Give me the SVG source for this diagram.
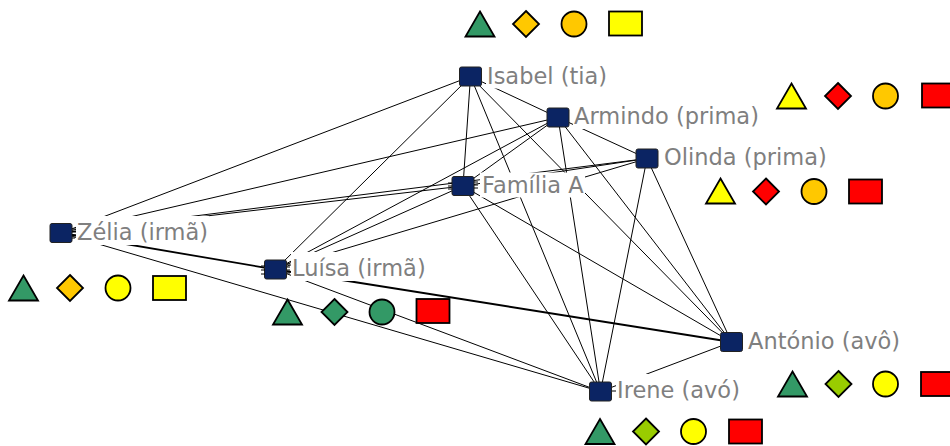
<svg xmlns="http://www.w3.org/2000/svg" width="950" height="446" viewBox="0 0 950 446">
  <style>
    .edge { stroke: #000; stroke-width: 1; fill: none; }
    .edge2 { stroke: #000; stroke-width: 1.8; fill: none; }
    .tick { stroke: #000; stroke-width: 1; fill: none; }
    .node { fill: #0b2463; stroke: #222; stroke-width: 1; }
    .lblbg { fill: #ffffff; }
    .lbl { font-family: "DejaVu Sans", Verdana, sans-serif; font-size: 22.5px; fill: #7f7f7f; }
    .sym { stroke: #000; stroke-width: 1.8; stroke-linejoin: miter; }
    .green { fill: #339966; }
    .orange { fill: #ffc800; }
    .yellow { fill: #ffff00; }
    .red { fill: #ff0000; }
    .lime { fill: #99cc00; }
  </style>
  <defs>
    <polygon id="tri" class="sym" points="0,-12.5 14.5,12.5 -14.5,12.5"/>
    <polygon id="dia" class="sym" points="0,-13 13,0 0,13 -13,0"/>
    <circle id="cir" class="sym" r="12.5"/>
    <rect id="box" class="sym" x="-16.5" y="-12" width="33" height="24"/>
  </defs>

  <rect width="950" height="446" fill="#ffffff"/>

  <!-- ties between actors (node centres) -->
  <g id="connectors">
    <!-- Isabel -->
    <line class="edge" x1="470.5" y1="76.5" x2="61" y2="233"/>
    <line class="edge" x1="470.5" y1="76.5" x2="275.5" y2="269.5"/>
    <line class="edge" x1="470.5" y1="76.5" x2="463" y2="186"/>
    <line class="edge" x1="470.5" y1="76.5" x2="558" y2="117.5"/>
    <line class="edge" x1="470.5" y1="76.5" x2="600.5" y2="391.5"/>
    <line class="edge" x1="470.5" y1="76.5" x2="731.5" y2="342"/>
    <!-- Armindo -->
    <line class="edge" x1="558" y1="117.5" x2="61" y2="233"/>
    <line class="edge" x1="558" y1="117.5" x2="275.5" y2="269.5"/>
    <line class="edge" x1="558" y1="117.5" x2="463" y2="186"/>
    <line class="edge" x1="558" y1="117.5" x2="647" y2="158.5"/>
    <line class="edge" x1="558" y1="117.5" x2="600.5" y2="391.5"/>
    <line class="edge" x1="558" y1="117.5" x2="731.5" y2="342"/>
    <!-- Olinda -->
    <line class="edge" x1="647" y1="158.5" x2="463" y2="186"/>
    <line class="edge" x1="647" y1="158.5" x2="61" y2="233"/>
    <line class="edge" x1="647" y1="158.5" x2="275.5" y2="269.5"/>
    <line class="edge" x1="647" y1="158.5" x2="600.5" y2="391.5"/>
    <line class="edge" x1="647" y1="158.5" x2="731.5" y2="342"/>
    <!-- Família A -->
    <line class="edge" x1="463" y1="186" x2="61" y2="233"/>
    <line class="edge" x1="463" y1="186" x2="275.5" y2="269.5"/>
    <line class="edge" x1="463" y1="186" x2="600.5" y2="391.5"/>
    <line class="edge" x1="463" y1="186" x2="731.5" y2="342"/>
    <!-- Zélia -->
    <line class="edge2" x1="61" y1="233" x2="275.5" y2="269.5"/>
    <line class="edge" x1="61" y1="233" x2="600.5" y2="391.5"/>
    <!-- Luísa -->
    <line class="edge2" x1="275.5" y1="269.5" x2="731.5" y2="342"/>
    <line class="edge" x1="275.5" y1="269.5" x2="600.5" y2="391.5"/>
    <!-- António -->
    <line class="edge" x1="731.5" y1="342" x2="600.5" y2="391.5"/>
  </g>

  <!-- attribute symbols -->
  <g id="attributes">
    <g id="attr-isabel">
      <use href="#tri" x="480" y="24" class="green"/>
      <use href="#dia" x="526" y="24" class="orange"/>
      <use href="#cir" x="574" y="24" class="orange"/>
      <use href="#box" x="625.5" y="23.5" class="yellow"/>
    </g>
    <g id="attr-armindo">
      <use href="#tri" x="791.5" y="96" class="yellow"/>
      <use href="#dia" x="838" y="96" class="red"/>
      <use href="#cir" x="885.5" y="96" class="orange"/>
      <use href="#box" x="938.5" y="95.5" class="red"/>
    </g>
    <g id="attr-olinda">
      <use href="#tri" x="720.5" y="191" class="yellow"/>
      <use href="#dia" x="766" y="191.5" class="red"/>
      <use href="#cir" x="814" y="191.5" class="orange"/>
      <use href="#box" x="865.5" y="191.5" class="red"/>
    </g>
    <g id="attr-zelia">
      <use href="#tri" x="23.5" y="288" class="green"/>
      <use href="#dia" x="70" y="288" class="orange"/>
      <use href="#cir" x="118" y="288" class="yellow"/>
      <use href="#box" x="169.5" y="288" class="yellow"/>
    </g>
    <g id="attr-luisa">
      <use href="#tri" x="287.5" y="312" class="green"/>
      <use href="#dia" x="334.5" y="312" class="green"/>
      <use href="#cir" x="382" y="312" class="green"/>
      <use href="#box" x="433" y="311" class="red"/>
    </g>
    <g id="attr-antonio">
      <use href="#tri" x="792.5" y="384" class="green"/>
      <use href="#dia" x="838.5" y="384" class="lime"/>
      <use href="#cir" x="885.5" y="384" class="yellow"/>
      <use href="#box" x="937.5" y="384" class="red"/>
    </g>
    <g id="attr-irene">
      <use href="#tri" x="600" y="431.5" class="green"/>
      <use href="#dia" x="646" y="431.5" class="lime"/>
      <use href="#cir" x="693.5" y="431.5" class="yellow"/>
      <use href="#box" x="745.5" y="431.5" class="red"/>
    </g>
  </g>

  <!-- actors: label panel, marker, name -->
  <g id="node-isabel">
    <rect class="lblbg" x="486" y="59.5" width="126" height="29"/>
    <rect class="node" x="459.5" y="67" width="22" height="19" rx="2"/>
    <text class="lbl" x="487" y="83.5">Isabel (tia)</text>
  </g>
  <g id="node-armindo">
    <rect class="lblbg" x="573" y="100" width="191" height="29"/>
    <rect class="node" x="547" y="108" width="22" height="19" rx="2"/>
    <text class="lbl" x="574" y="124">Armindo (prima)</text>
  </g>
  <g id="node-olinda">
    <rect class="lblbg" x="663" y="141" width="168" height="29"/>
    <rect class="node" x="636" y="149" width="22" height="19" rx="2"/>
    <text class="lbl" x="664" y="165">Olinda (prima)</text>
  </g>
  <g id="node-familia">
    <rect class="lblbg" x="480" y="172.5" width="105" height="25"/>
    <rect class="node" x="452" y="176.5" width="22" height="19" rx="2"/>
    <path class="tick" d="M474 182h4M474 185h4M474 188h4M448 183h4M448 186h4M448 189h4"/>
    <text class="lbl" x="482" y="192.5">Família A</text>
  </g>
  <g id="node-zelia">
    <rect class="lblbg" x="76" y="216" width="133" height="29"/>
    <rect class="node" x="50" y="223.5" width="22" height="19" rx="2"/>
    <path class="tick" d="M72 229h4M72 232h4M72 235h4M72 238h3"/>
    <text class="lbl" x="77" y="239.5">Zélia (irmã)</text>
  </g>
  <g id="node-luisa">
    <rect class="lblbg" x="291" y="252" width="137" height="29"/>
    <rect class="node" x="264.5" y="260" width="22" height="19" rx="2"/>
    <path class="tick" d="M287 264h3M287 267h3M287 270h3M287 273h3M261 266h4M261 270h4M261 274h4"/>
    <text class="lbl" x="292" y="276">Luísa (irmã)</text>
  </g>
  <g id="node-antonio">
    <rect class="lblbg" x="747" y="324.5" width="158" height="29"/>
    <rect class="node" x="720.5" y="332.5" width="22" height="19" rx="2"/>
    <text class="lbl" x="748" y="348.5">António (avô)</text>
  </g>
  <g id="node-irene">
    <rect class="lblbg" x="616" y="374" width="131" height="29"/>
    <rect class="node" x="589.5" y="382" width="22" height="19" rx="2"/>
    <path class="tick" d="M612 391h4"/>
    <text class="lbl" x="617" y="398">Irene (avó)</text>
  </g>
</svg>
